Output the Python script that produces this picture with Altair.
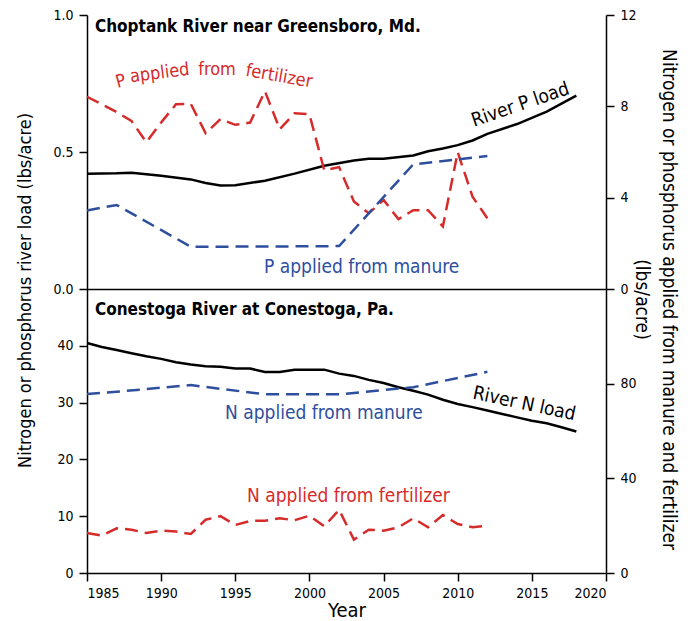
import altair as alt
import pandas as pd

# ---------------- data ----------------
# Top panel: Choptank River near Greensboro, Md.
p_load_years = [1985, 1987, 1988, 1990, 1992, 1993, 1994, 1995, 1997, 1999, 2001, 2003,
                2004, 2005, 2007, 2008, 2009, 2010, 2011, 2012, 2014, 2016, 2018]
p_load = [0.421, 0.422, 0.424, 0.413, 0.400, 0.387, 0.378, 0.379, 0.395, 0.421, 0.450, 0.469,
          0.475, 0.475, 0.487, 0.503, 0.513, 0.525, 0.542, 0.566, 0.602, 0.647, 0.706]

p_fert_years = list(range(1985, 2013))
p_fert = [8.42, 8.09, 7.75, 7.36, 6.43, 7.29, 8.09, 8.11, 6.82, 7.44, 7.19, 7.29, 8.66, 7.00,
          7.70, 7.65, 5.20, 5.34, 3.83, 3.32, 3.90, 3.06, 3.45, 3.45, 2.74, 5.99, 4.04, 3.10]

p_manure_years = [1985, 1987, 1992, 1997, 2002, 2007, 2012]
p_manure = [3.44, 3.68, 1.85, 1.86, 1.88, 5.46, 5.82]

# Bottom panel: Conestoga River at Conestoga, Pa.
n_load_years = list(range(1985, 2019))
n_load = [40.5, 39.8, 39.26, 38.7, 38.15, 37.7, 37.1, 36.7, 36.4, 36.3,
          36.0, 36.0, 35.4, 35.4, 35.8, 35.8, 35.8, 35.1, 34.7, 34.0,
          33.45, 32.7, 32.1, 31.4, 30.5, 29.75, 29.2, 28.6, 28.0, 27.4,
          26.8, 26.35, 25.65, 24.9]

n_manure_years = [1985, 1987, 1992, 1997, 2002, 2007, 2012]
n_manure = [75.6, 76.6, 79.4, 75.5, 75.5, 78.5, 85.0]

n_fert_years = list(range(1985, 2013))
n_fert = [16.9, 15.8, 18.9, 18.3, 16.9, 17.9, 17.5, 16.5, 22.5, 24.0, 20.3, 22.0, 22.1, 23.1,
          22.3, 24.2, 19.7, 26.7, 14.1, 18.3, 17.9, 19.3, 23.1, 19.3, 24.5, 20.7, 19.3, 20.0]

# Text
panel_titles = ["Choptank River near Greensboro, Md.", "Conestoga River at Conestoga, Pa."]
left_title = "Nitrogen or phosphorus river load (lbs/acre)"
right_title = ["Nitrogen or phosphorus applied from manure and fertilizer", "(lbs/acre)"]
x_ticks = [1985, 1990, 1995, 2000, 2005, 2010, 2015, 2020]

# curved label "P applied from fertilizer", split in words (year, value on left axis)
top_fert_words = ["P", "applied", "from", "fertilizer"]
top_fert_years = [1987.05, 1987.95, 1992.5, 1995.65]
top_fert_vals = [0.734, 0.755, 0.781, 0.778]
top_fert_angles = [345, 353, 0, 10]

# ---------------- styling ----------------
FONT = "DejaVu Sans Condensed, Liberation Sans, sans-serif"
RED = "#d62b2b"
BLUE = "#2e4e9e"
W, H1, H2 = 519, 274, 284
DASH = [13, 7]

x_scale = alt.Scale(domain=[1985, 2020], nice=False, zero=False)
x_top = alt.X("year:Q", scale=x_scale,
              axis=alt.Axis(labels=False, ticks=False, title=None, domain=True))
x_bot = alt.X("year:Q", scale=x_scale,
              axis=alt.Axis(values=x_ticks, format="d", title="Year", titleFontSize=20,
                            titlePadding=0, labelPadding=5))
x_top_plain = alt.X("year:Q", scale=x_scale)


def df(years, vals):
    return pd.DataFrame({"year": years, "value": vals})


def txt(text, year, val, color, angle=0, size=19, xenc=None):
    return alt.Chart(pd.DataFrame({"year": [year], "value": [val], "t": [text]})).mark_text(
        font=FONT, fontSize=size, color=color, align="left", baseline="alphabetic", angle=angle
    ).encode(x=xenc if xenc is not None else x_top_plain, y=alt.Y("value:Q"), text="t:N")


# ---------------- top panel ----------------
y_top_left = alt.Y("value:Q", scale=alt.Scale(domain=[0, 1], nice=False),
                   axis=alt.Axis(values=[0, 0.5, 1], format=".1f", title=left_title,
                                 titleX=-62, titleY=275, titleAngle=270,
                                 titleBaseline="middle", titleFontSize=18))
y_top_right = alt.Y("value:Q", scale=alt.Scale(domain=[0, 12], nice=False),
                    axis=alt.Axis(values=[0, 4, 8, 12], orient="right", title=right_title,
                                  titleAngle=90, titleX=71, titleY=284, titleBaseline="top",
                                  titleFontSize=19, titleLineHeight=27))

top_load = alt.Chart(df(p_load_years, p_load)).mark_line(color="black", strokeWidth=2.5).encode(
    x=x_top, y=y_top_left)
top_title = alt.Chart(pd.DataFrame({"t": [panel_titles[0]]})).mark_text(
    font=FONT, fontSize=17, fontWeight="bold", align="left", baseline="alphabetic", color="black"
).encode(x=alt.value(8), y=alt.value(17), text="t:N")

top_texts = []
for w, yr, v, a in zip(top_fert_words, top_fert_years, top_fert_vals, top_fert_angles):
    top_texts.append(txt(w, yr, v, RED, angle=a, size=18))
top_texts.append(txt("P applied from manure", 1996.94, 0.057, BLUE))
top_texts.append(txt("River P load", 2011.1, 0.592, "black", angle=341))

top_left = alt.layer(top_load, top_title, *top_texts)

top_fert = alt.Chart(df(p_fert_years, p_fert)).mark_line(
    color=RED, strokeWidth=2.5, strokeDash=DASH).encode(x=x_top, y=y_top_right)
top_man = alt.Chart(df(p_manure_years, p_manure)).mark_line(
    color=BLUE, strokeWidth=2.5, strokeDash=DASH).encode(x=x_top, y=y_top_right)
top_right = alt.layer(top_fert, top_man)

top = alt.layer(top_left, top_right).resolve_scale(y="independent").properties(width=W, height=H1)

# ---------------- bottom panel ----------------
y_bot_left = alt.Y("value:Q", scale=alt.Scale(domain=[0, 50], nice=False),
                   axis=alt.Axis(values=[0, 10, 20, 30, 40], title=None))
y_bot_right = alt.Y("value:Q", scale=alt.Scale(domain=[0, 120], nice=False),
                    axis=alt.Axis(values=[0, 40, 80], orient="right", title=None))

bot_load = alt.Chart(df(n_load_years, n_load)).mark_line(color="black", strokeWidth=2.5).encode(
    x=x_bot, y=y_bot_left)
bot_title = alt.Chart(pd.DataFrame({"t": [panel_titles[1]]})).mark_text(
    font=FONT, fontSize=17, fontWeight="bold", align="left", baseline="alphabetic", color="black"
).encode(x=alt.value(8), y=alt.value(26), text="t:N")
bot_left = alt.layer(
    bot_load, bot_title,
    txt("N applied from manure", 1994.31, 27.1, BLUE, xenc=x_bot),
    txt("River N load", 2010.96, 30.7, "black", angle=12, xenc=x_bot),
    txt("N applied from fertilizer", 1995.79, 12.45, RED, xenc=x_bot),
)

bot_fert = alt.Chart(df(n_fert_years, n_fert)).mark_line(
    color=RED, strokeWidth=2.5, strokeDash=DASH).encode(x=x_bot, y=y_bot_right)
bot_man = alt.Chart(df(n_manure_years, n_manure)).mark_line(
    color=BLUE, strokeWidth=2.5, strokeDash=DASH).encode(x=x_bot, y=y_bot_right)
bot_right = alt.layer(bot_fert, bot_man)

bottom = alt.layer(bot_left, bot_right).resolve_scale(y="independent").properties(width=W, height=H2)

chart = alt.vconcat(top, bottom, spacing=0, bounds="flush").configure_view(stroke=None).configure_axis(
    labelFont=FONT, labelFontSize=14, labelColor="black", titleFont=FONT, titleColor="black",
    titleFontWeight="normal", domainColor="black", tickColor="black", domainWidth=1.5,
    tickWidth=1.5, tickSize=8, labelPadding=6, grid=False
).properties(padding={"left": 8, "top": 0, "right": 5, "bottom": 0}, background="white")

chart.save("out.html", embed_options={"renderer": "svg", "actions": False})
